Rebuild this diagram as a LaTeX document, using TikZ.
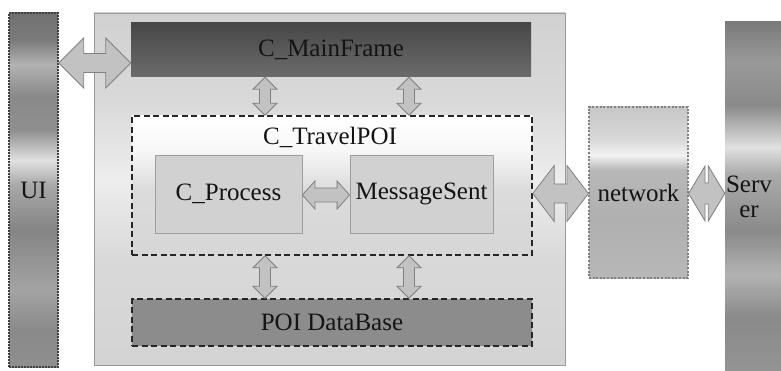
\documentclass[tikz,border=0pt]{standalone}
\usepackage{fontspec}
\setmainfont{Liberation Serif}
\usetikzlibrary{calc}

% vertical shadings (the 25bp..75bp band is stretched onto the shape)
\pgfdeclareverticalshading{uishade}{100bp}{color(0bp)=(black!44); color(25bp)=(black!44);
  color(30.2bp)=(black!46); color(35.9bp)=(black!36); color(44.3bp)=(black!48);
  color(50.7bp)=(black!34); color(54.2bp)=(black!12); color(58.5bp)=(black!44);
  color(63.4bp)=(black!46); color(67.7bp)=(black!30); color(71.2bp)=(black!52);
  color(75bp)=(black!56); color(100bp)=(black!56)}
\pgfdeclareverticalshading{servershade}{100bp}{color(0bp)=(black!40); color(25bp)=(black!40);
  color(36.2bp)=(black!46); color(41.8bp)=(black!30); color(47.4bp)=(black!46);
  color(55bp)=(black!33); color(58.5bp)=(black!12); color(64.1bp)=(black!46);
  color(69.7bp)=(black!40); color(75bp)=(black!52); color(100bp)=(black!52)}
\pgfdeclareverticalshading{netshade}{100bp}{color(0bp)=(black!28); color(25bp)=(black!28);
  color(42bp)=(black!31); color(56.6bp)=(black!28); color(61bp)=(black!5);
  color(65.4bp)=(black!15); color(75bp)=(black!22); color(100bp)=(black!22)}
\pgfdeclareverticalshading{outershade}{100bp}{color(0bp)=(black!17); color(25bp)=(black!17);
  color(39.9bp)=(black!15); color(51.3bp)=(black!7); color(62.6bp)=(black!15);
  color(75bp)=(black!18); color(100bp)=(black!18)}
\pgfdeclareverticalshading{travelshade}{100bp}{color(0bp)=(black!16); color(25bp)=(black!16);
  color(48.4bp)=(black!14); color(62.8bp)=(black!3); color(75bp)=(white); color(100bp)=(white)}

% fat double arrows: from, to, head half-size, shaft half-size, head length
\newcommand\hfat[5]{%
  \path[fatarrow] let \p1=(#1), \p2=(#2) in
    (\x1,\y1) -- ({\x1+#5pt},{\y1+#3pt}) -- ({\x1+#5pt},{\y1+#4pt})
    -- ({\x2-#5pt},{\y1+#4pt}) -- ({\x2-#5pt},{\y1+#3pt}) -- (\x2,\y1)
    -- ({\x2-#5pt},{\y1-#3pt}) -- ({\x2-#5pt},{\y1-#4pt})
    -- ({\x1+#5pt},{\y1-#4pt}) -- ({\x1+#5pt},{\y1-#3pt}) -- cycle;}
\newcommand\vfat[5]{%
  \path[fatarrow] let \p1=(#1), \p2=(#2) in
    (\x1,\y1) -- ({\x1+#3pt},{\y1-#5pt}) -- ({\x1+#4pt},{\y1-#5pt})
    -- ({\x1+#4pt},{\y2+#5pt}) -- ({\x1+#3pt},{\y2+#5pt}) -- (\x1,\y2)
    -- ({\x1-#3pt},{\y2+#5pt}) -- ({\x1-#4pt},{\y2+#5pt})
    -- ({\x1-#4pt},{\y1-#5pt}) -- ({\x1-#3pt},{\y1-#5pt}) -- cycle;}

\tikzset{
  every node/.style={font=\fontsize{25}{25}\selectfont, text=black!92},
  box/.style={rectangle, inner sep=0pt, anchor=center},
  dashedborder/.style={draw=black!85, line width=1.6pt, dash pattern=on 6pt off 3.5pt},
  fatarrow/.style={fill=black!24, draw=black!50, line width=0.8pt, line join=miter},
}

\begin{document}
\begin{tikzpicture}[x=1pt, y=-1pt]
  \path[use as bounding box, clip] (0,0) rectangle (781,371);
  \fill[white] (0,0) rectangle (781,371);

  % application frame and its parts
  \node[box, shading=outershade, draw=black!40, line width=0.8pt,
        minimum width=471pt, minimum height=352pt] (outer) at (329.5,189) {};
  \node[box, top color=black!72, bottom color=black!58,
        minimum width=400pt, minimum height=54pt] (main) at (331,50) {C\_MainFrame};
  \node[box, shading=travelshade, dashedborder,
        minimum width=400pt, minimum height=139pt] (travel) at (332,185.5) {};
  \node (travellbl) at (330,137) {C\_TravelPOI};
  \node[box, fill=black!18, draw=black!38, line width=0.8pt,
        minimum width=147pt, minimum height=78pt] (proc) at (228.5,194) {C\_Process};
  \node[box, fill=black!18, draw=black!38, line width=0.8pt,
        minimum width=143pt, minimum height=78pt] (msg) at (421.5,194) {MessageSent};
  \node[box, fill=black!45, dashedborder,
        minimum width=400pt, minimum height=47pt] (db) at (332,322.5) {POI DataBase};

  % outside parts
  \node[box, shading=uishade, draw=black!75, line width=1.4pt,
        dash pattern=on 1.6pt off 1.4pt,
        minimum width=49pt, minimum height=354pt] (ui) at (33.5,190) {UI};
  \node[box, shading=netshade, draw=black!50, line width=1.1pt,
        dash pattern=on 2pt off 1.6pt,
        minimum width=99pt, minimum height=171pt] (net) at (638.5,192.5) {network};
  \node[box, shading=servershade,
        minimum width=80pt, minimum height=380pt] (server) at (765,212) {};
  \node[align=center] (srvtxt) at (749,197) {Serv\\er};

  % connectors
  \coordinate (uiarr) at ($(main.west)+(0,13)$);
  \hfat{ui.east |- uiarr}{uiarr}{25}{9.5}{25}
  \vfat{$(main.south)+(-66,0)$}{travel.north}{12}{5.5}{12}
  \vfat{$(main.south)+(78,0)$}{travel.north}{12}{5.5}{12}
  \coordinate (procarr) at ($(proc.east)+(0,1)$);
  \hfat{procarr}{msg.west |- procarr}{14}{7}{12.5}
  \vfat{$(travel.south)+(-67,0)$}{db.north}{12}{5.5}{12}
  \vfat{$(travel.south)+(77,0)$}{db.north}{12}{5.5}{12}
  \coordinate (netarr) at ($(travel.east |- net.west)+(0,1)$);
  \hfat{netarr}{net.west |- netarr}{28}{9.5}{21.5}
  \hfat{net.east |- netarr}{server.west |- netarr}{27.5}{10.5}{16.5}
\end{tikzpicture}
\end{document}
